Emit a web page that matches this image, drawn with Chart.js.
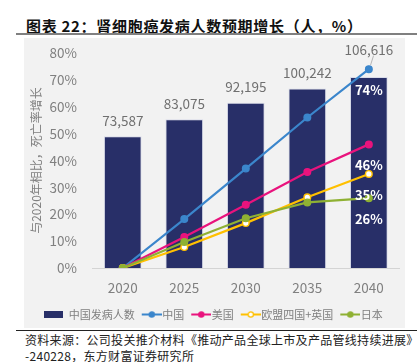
<!DOCTYPE html>
<html>
<head>
<meta charset="utf-8">
<script src="https://cdn.jsdelivr.net/npm/chart.js@4/dist/chart.umd.min.js"></script>
<style>
  body { margin: 0; background: #fff; width: 417px; height: 362px; position: relative; overflow: hidden;
         font-family: "Noto Sans CJK SC", "Noto Sans", sans-serif; }
  #title { position: absolute; left: 26px; top: 16px; font-size: 15px; font-weight: bold; color: #111; line-height: 20px; white-space: nowrap; letter-spacing: 0.7px; }
  #rule1 { position: absolute; left: 16px; top: 33px; width: 401px; height: 2px; background: #808080; }
  #panel { position: absolute; left: 24px; top: 38px; width: 381px; height: 290px; background: #f2f2f2; }
  #rule2 { position: absolute; left: 16px; top: 330px; width: 401px; height: 1px; background: #222; }
  #source { position: absolute; left: 25px; top: 332px; font-size: 12px; line-height: 16px; color: #222; letter-spacing: 0.3px; white-space: nowrap; }
</style>
</head>
<body>
<div id="title">图表 22：肾细胞癌发病人数预期增长（人，%）</div>
<div id="rule1"></div>
<div id="panel"><canvas id="chart" width="381" height="290"></canvas></div>
<div id="rule2"></div>
<div id="source">资料来源：公司投关推介材料《推动产品全球上市及产品管线持续进展》<br>-240228，东方财富证券研究所</div>
<script>
// chart data
const years = ["2020", "2025", "2030", "2035", "2040"];
const chinaCases = [73587, 83075, 92195, 100242, 106616];
const chinaGrowth = [0, 18.2, 37, 56, 74];
const usGrowth = [0, 11.5, 23.5, 35.7, 46];
const euGrowth = [0, 7.8, 16.7, 26.3, 35];
const japanGrowth = [0, 9.7, 18.5, 24.4, 26];
const pctTicks = [0, 10, 20, 30, 40, 50, 60, 70, 80];

const NAVY = "#282f68";
const BLUE = "#3b86cc";
const PINK = "#e9137d";
const YELLOW = "#ffc000";
const GREEN = "#8fb133";
const FONT = '"Noto Sans CJK SC", "Noto Sans", sans-serif';

// little legend swatches
function lineSwatch(color, fill) {
  const c = document.createElement("canvas");
  c.width = 30; c.height = 9;
  const g = c.getContext("2d");
  g.strokeStyle = color; g.lineWidth = 2;
  g.beginPath(); g.moveTo(10, 4.5); g.lineTo(30, 4.5); g.stroke();
  g.beginPath(); g.arc(20, 4.5, 2.6, 0, Math.PI * 2);
  g.fillStyle = fill; g.fill(); g.lineWidth = 1.3; g.stroke();
  return c;
}
function barSwatch(color) {
  const c = document.createElement("canvas");
  c.width = 19; c.height = 7;
  const g = c.getContext("2d");
  g.fillStyle = color; g.fillRect(0, 0, 19, 7);
  return c;
}

// value labels over bars + end labels inside the last bar
const labelPlugin = {
  id: "labels",
  afterDatasetsDraw(chart) {
    const ctx = chart.ctx;
    const barMeta = chart.getDatasetMeta(0);
    const lineMetas = [1, 2, 3, 4].map(i => chart.getDatasetMeta(i));
    ctx.save();
    ctx.textAlign = "center";
    ctx.textBaseline = "middle";
    ctx.font = "13.5px " + FONT;
    ctx.fillStyle = "#707070";
    barMeta.data.forEach((bar, i) => {
      let y = bar.y - 15.5;
      const topPt = Math.min(...lineMetas.map(m => m.data[i].y));
      if (y + 8 > topPt - 3 && y - 8 < topPt + 3) {
        // label would sit on the line end: lift it and add a leader
        ctx.strokeStyle = "#a6a6a6"; ctx.lineWidth = 0.8;
        ctx.beginPath(); ctx.moveTo(bar.x + 4.7, topPt - 13.5); ctx.lineTo(bar.x + 1.7, topPt - 4); ctx.stroke();
        y = topPt - 19;
      }
      ctx.fillText(chinaCases[i].toLocaleString("en-US"), bar.x, y);
    });
    ctx.font = "bold 13px " + FONT;
    ctx.fillStyle = "#ffffff";
    lineMetas.forEach((m, k) => {
      const last = m.data.length - 1;
      const pt = m.data[last];
      const v = chart.data.datasets[k + 1].data[last];
      ctx.fillText(Math.round(v) + "%", pt.x, pt.y + 21);
    });
    ctx.restore();
  }
};

function lineSet(label, data, color, fill, order) {
  return {
    type: "line", label, data, yAxisID: "y", order,
    borderColor: color, backgroundColor: fill, borderWidth: 2.2,
    pointRadius: 3.3, pointBorderWidth: 1.4, pointBorderColor: color, pointBackgroundColor: fill,
    tension: 0, swatch: lineSwatch(color, fill)
  };
}

new Chart(document.getElementById("chart"), {
  type: "bar",
  data: {
    labels: years,
    datasets: [
      { type: "bar", label: "中国发病人数", data: chinaCases, yAxisID: "y1", order: 5,
        backgroundColor: NAVY, borderColor: "rgba(210,214,230,0.8)", borderWidth: 1,
        barPercentage: 0.613, categoryPercentage: 1, swatch: barSwatch(NAVY) },
      lineSet("中国", chinaGrowth, BLUE, BLUE, 4),
      lineSet("美国", usGrowth, PINK, PINK, 3),
      lineSet("欧盟四国+英国", euGrowth, YELLOW, "#ffffff", 2),
      lineSet("日本", japanGrowth, GREEN, GREEN, 1),
    ],
  },
  options: {
    responsive: false,
    animation: false,
    layout: { padding: { top: 15, right: 3, bottom: -2, left: 0 } },
    plugins: {
      tooltip: { enabled: false },
      legend: {
        position: "bottom",
        labels: {
          usePointStyle: true,
          pointStyleWidth: 20,
          padding: 2,
          color: "#7f7f7f",
          font: { family: FONT, size: 11 },
          generateLabels(chart) {
            return chart.data.datasets.map((d, i) => ({
              text: d.label, datasetIndex: i, pointStyle: d.swatch,
              fillStyle: "transparent", strokeStyle: "transparent", lineWidth: 0, fontColor: "#7f7f7f"
            }));
          }
        }
      }
    },
    scales: {
      x: {
        grid: { display: false, drawTicks: true, tickLength: 12 },
        border: { display: true, color: "#d4d4d4", width: 1 },
        ticks: { color: "#808080", font: { family: FONT, size: 13.5 }, padding: 0 },
        afterFit(s) { s.height = 39; }
      },
      y: {
        position: "left", min: 0, max: 80,
        afterBuildTicks(s) { s.ticks = pctTicks.map(v => ({ value: v })); },
        grid: { display: false, drawTicks: true, tickLength: 15 },
        border: { display: false },
        ticks: { color: "#808080", font: { family: FONT, size: 13.5 }, padding: 0, callback: v => v + "%" },
        title: { display: true, text: "与2020年相比，死亡率增长", color: "#808080",
                 font: { family: FONT, size: 12 }, padding: { top: 5, bottom: 0 } },
        afterFit(s) { s.width = 68; }
      },
      y1: { display: false, min: 0, max: 120000 }
    }
  },
  plugins: [labelPlugin]
});
</script>
</body>
</html>
